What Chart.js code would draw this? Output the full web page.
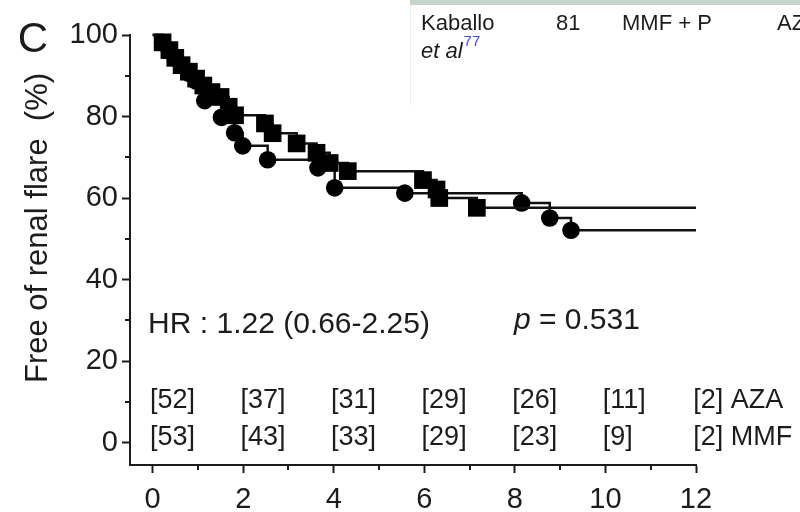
<!DOCTYPE html>
<html>
<head>
<meta charset="utf-8">
<script src="https://cdn.jsdelivr.net/npm/chart.js@4/dist/chart.umd.min.js"></script>
<style>
    html, body { margin: 0; padding: 0; background: #ffffff; }
    #chart { display: block; }
</style>
</head>
<body>
<canvas id="chart" width="800" height="512"></canvas>
<script>
/* =========================
   DATOS
========================= */
const timeTicks = [0, 2, 4, 6, 8, 10, 12];
const timeMinorTicks = [1, 3, 5, 7, 9, 11];
const yTicks = [0, 20, 40, 60, 80, 100];
const yMinorTicks = [10, 30, 50, 70, 90];

// AZA (cuadrados)
const azaTimes = [0, 0.22, 0.37, 0.5, 0.64, 0.8, 0.96, 1.12, 1.3, 1.5, 1.68, 1.82,
    2.48, 2.65, 3.18, 3.62, 3.91, 4.31, 5.97, 6.27, 6.33, 7.16, 12];
const azaSurvival = [100, 98.2, 96.3, 94.4, 92.6, 91.0, 89.3, 87.6, 86.0, 84.8, 82.4, 80.3,
    78.3, 75.9, 73.4, 71.1, 68.6, 66.6, 64.4, 62.1, 60.0, 57.6, 57.6];

// MMF (circulos)
const mmfTimes = [0, 0.22, 0.37, 0.5, 0.64, 0.8, 0.96, 1.15, 1.52, 1.81, 1.99,
    2.54, 3.65, 4.02, 5.57, 8.15, 8.77, 9.24, 12];
const mmfSurvival = [100, 98.1, 96.2, 94.3, 92.5, 90.6, 88.7, 83.9, 79.8, 76.0, 72.8,
    69.4, 67.4, 62.5, 61.2, 58.8, 55.1, 52.1, 52.1];

// Numero en riesgo
const atRiskTimes = [0, 2, 4, 6, 8, 10, 12];
const azaAtRisk = [52, 37, 31, 29, 26, 11, 2];
const mmfAtRisk = [53, 43, 33, 29, 23, 9, 2];

const INK = "#1c1c1c";
const FONT = "'Liberation Sans', Arial, Helvetica, sans-serif";

/* =========================
   HELPERS
========================= */
function toPoints(times, values) {
    return times.map((t, i) => ({ x: t, y: values[i] }));
}

// sin marcador en el primer y ultimo punto
function markerRadius(size, count) {
    return ctx => (ctx.dataIndex === 0 || ctx.dataIndex === count - 1) ? 0 : size;
}

/* =========================
   PLUGIN: TEXTOS Y TICKS MENORES
========================= */
const annotations = {
    id: "annotations",
    afterDraw(chart) {
        const { ctx, scales: { x, y } } = chart;
        ctx.save();

        /* ticks menores */
        ctx.strokeStyle = INK;
        ctx.lineWidth = 2;
        yMinorTicks.forEach(v => {
            const py = Math.round(y.getPixelForValue(v));
            ctx.beginPath();
            ctx.moveTo(x.left - 5, py);
            ctx.lineTo(x.left, py);
            ctx.stroke();
        });
        timeMinorTicks.forEach(v => {
            const px = Math.round(x.getPixelForValue(v));
            ctx.beginPath();
            ctx.moveTo(px, y.bottom);
            ctx.lineTo(px, y.bottom + 5);
            ctx.stroke();
        });

        ctx.fillStyle = INK;
        ctx.textBaseline = "middle";

        /* letra del panel */
        ctx.font = `42px ${FONT}`;
        ctx.textAlign = "center";
        ctx.fillText("C", 33, 40);

        /* titulo eje y */
        ctx.save();
        ctx.translate(38, 228);
        ctx.rotate(-Math.PI / 2);
        ctx.font = `31px ${FONT}`;
        ctx.fillText("Free of renal flare  (%)", 0, 0);
        ctx.restore();

        /* HR y p */
        ctx.textAlign = "left";
        ctx.font = `30px ${FONT}`;
        ctx.fillText("HR : 1.22 (0.66-2.25)", x.getPixelForValue(-0.1), y.getPixelForValue(29));
        const px = x.getPixelForValue(7.98);
        const py = y.getPixelForValue(30);
        ctx.font = `italic 30px ${FONT}`;
        ctx.fillText("p", px, py);
        const pw = ctx.measureText("p").width;
        ctx.font = `30px ${FONT}`;
        ctx.fillText(" = 0.531", px + pw, py);

        /* numero en riesgo */
        ctx.font = `27px ${FONT}`;
        atRiskTimes.forEach((t, i) => {
            const last = i === atRiskTimes.length - 1;
            const bx = x.getPixelForValue(t - 0.06);
            ctx.fillText(`[${azaAtRisk[i]}]` + (last ? " AZA" : ""), bx, y.getPixelForValue(10.3));
            ctx.fillText(`[${mmfAtRisk[i]}]` + (last ? " MMF" : ""), bx, y.getPixelForValue(1.2));
        });

        /* fragmento de tabla arriba a la derecha */
        ctx.fillStyle = "#c4d5cc";
        ctx.fillRect(410, 0, 390, 5);
        ctx.strokeStyle = "#ededed";
        ctx.lineWidth = 1;
        ctx.beginPath();
        ctx.moveTo(410.5, 5);
        ctx.lineTo(410.5, 105);
        ctx.stroke();

        ctx.fillStyle = INK;
        ctx.textBaseline = "alphabetic";
        ctx.font = `22px ${FONT}`;
        ctx.fillText("Kaballo", 421, 30);
        ctx.fillText("81", 556, 30);
        ctx.fillText("MMF + P", 622, 30);
        ctx.fillText("AZ", 777, 30);
        ctx.font = `italic 22px ${FONT}`;
        ctx.fillText("et al", 421, 58);
        const ew = ctx.measureText("et al").width;
        ctx.fillStyle = "#4646ff";
        ctx.font = `15px ${FONT}`;
        ctx.fillText("77", 421 + ew + 1, 46);

        ctx.restore();
    }
};

/* =========================
   GRAFICO
========================= */
const axisStyle = {
    grid: {
        display: true,
        drawOnChartArea: false,
        drawTicks: true,
        tickLength: 8,
        tickWidth: 2,
        tickColor: INK
    },
    border: { display: true, width: 2, color: INK }
};

new Chart(document.getElementById("chart"), {
    type: "line",
    data: {
        datasets: [
            {
                label: "AZA",
                data: toPoints(azaTimes, azaSurvival),
                stepped: "before",
                borderColor: "#111",
                borderWidth: 2.5,
                pointStyle: "rect",
                pointRadius: markerRadius(12.5, azaTimes.length),
                pointBackgroundColor: "#000",
                pointBorderWidth: 0,
                fill: false
            },
            {
                label: "MMF",
                data: toPoints(mmfTimes, mmfSurvival),
                stepped: "before",
                borderColor: "#111",
                borderWidth: 2.5,
                pointStyle: "circle",
                pointRadius: markerRadius(8.8, mmfTimes.length),
                pointBackgroundColor: "#000",
                pointBorderWidth: 0,
                fill: false
            }
        ]
    },
    options: {
        responsive: false,
        animation: false,
        devicePixelRatio: 1,
        clip: false,
        layout: { padding: { left: 0, top: 35, right: 104, bottom: 0 } },
        plugins: {
            legend: { display: false },
            tooltip: { enabled: false }
        },
        scales: {
            x: {
                type: "linear",
                min: -0.5,
                max: 12,
                ...axisStyle,
                afterBuildTicks: s => { s.ticks = timeTicks.map(v => ({ value: v })); },
                afterFit: s => { s.height = 47; },
                ticks: {
                    color: INK,
                    padding: 10,
                    maxRotation: 0,
                    font: { family: FONT, size: 29 }
                }
            },
            y: {
                type: "linear",
                min: -5.5,
                max: 100,
                ...axisStyle,
                afterBuildTicks: s => { s.ticks = yTicks.map(v => ({ value: v })); },
                afterFit: s => { s.width = 130; },
                ticks: {
                    color: INK,
                    padding: 4,
                    font: { family: FONT, size: 29 }
                }
            }
        }
    },
    plugins: [annotations]
});
</script>
</body>
</html>
